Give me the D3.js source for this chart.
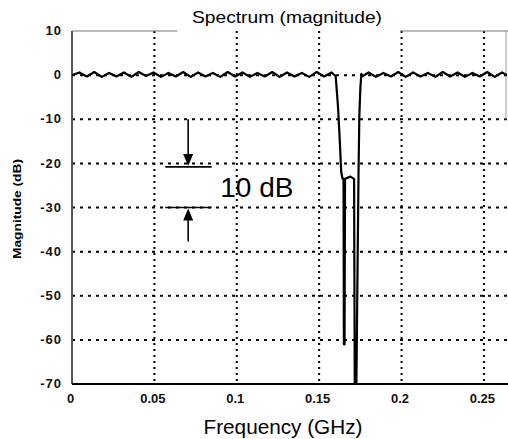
<!DOCTYPE html>
<html>
<head>
<meta charset="utf-8">
<script src="https://cdn.jsdelivr.net/npm/d3@7"></script>
<style>
  html, body { margin: 0; padding: 0; background: #fff; }
  svg { display: block; }
</style>
</head>
<body>
<svg id="chart" width="508" height="439"></svg>
<script>
// ---- data ----
const xTicks = [0, 0.05, 0.1, 0.15, 0.2, 0.25];
const xTickLabels = ["0", "0.05", "0.1", "0.15", "0.2", "0.25"];
const yTicks = [10, 0, -10, -20, -30, -40, -50, -60, -70];
const yTickLabels = ["10", "0", "-10", "-20", "-30", "-40", "-50", "-60", "-70"];

const freqLeft = [0, 0.0045, 0.009, 0.0135, 0.018, 0.0225, 0.027, 0.0315, 0.036, 0.0405, 0.045, 0.0495,
  0.054, 0.0585, 0.063, 0.0675, 0.072, 0.0765, 0.081, 0.0855, 0.09, 0.0945, 0.099, 0.1035, 0.108, 0.1125,
  0.117, 0.1215, 0.126, 0.1305, 0.135, 0.1395, 0.144, 0.1485, 0.153, 0.1575];
const magLeft = [0.0, 0.6, -0.3, 0.7, -0.4, 0.5, -0.3, 0.6, -0.4, 0.7, -0.2, 0.6, -0.4, 0.5, -0.3, 0.7,
  -0.4, 0.6, -0.3, 0.5, -0.4, 0.7, -0.3, 0.6, -0.4, 0.5, -0.3, 0.7, -0.4, 0.6, -0.3, 0.5, -0.4, 0.7, -0.3, 0.6];

const freqNotch = [0.1600, 0.1606, 0.1614, 0.1624, 0.1634, 0.1642, 0.1648, 0.1650, 0.1654, 0.1657, 0.1690,
  0.1712, 0.1716, 0.1726, 0.1734, 0.1739, 0.1744, 0.1750, 0.1756];
const magNotch = [-0.2, -3, -7, -14, -22, -23.5, -23.5, -61, -61, -23.5, -23, -23.5, -70, -70, -40, -22, -9, -3, 0.3];

const freqRight = [0.1760, 0.18, 0.1845, 0.189, 0.1935, 0.198, 0.2025, 0.207, 0.2115, 0.216, 0.2205, 0.225,
  0.2295, 0.234, 0.2385, 0.243, 0.2475, 0.252, 0.2565, 0.261, 0.2655];
const magRight = [-0.3, 0.6, -0.4, 0.5, -0.3, 0.7, -0.4, 0.6, -0.3, 0.5, -0.4, 0.7, -0.3, 0.6, -0.4, 0.5,
  -0.3, 0.7, -0.4, 0.6, -0.3];

// annotation (10 dB marker)
const annotFreq = [0.0705];
const annotSpan = [0.0566, 0.0848];
const annotLevels = [-20.8, -30];
const annotArrowFrom = [-10, -37.7];
const annotText = "10 dB";
const annotTextPos = [0.0900, -27.6];

const titleText = "Spectrum (magnitude)";
const xLabel = "Frequency (GHz)";
const yLabel = "Magnitude (dB)";

// ---- layout ----
const svg = d3.select("#chart");
const mLeft = 72, mRight = 507, mTop = 31, mBottom = 384;
const x = d3.scaleLinear().domain([0, 0.264]).range([mLeft, mRight]);
const y = d3.scaleLinear().domain([-70, 10]).range([mBottom, mTop]);
const FONT = "Liberation Sans, Arial, sans-serif";

const pts = [];
freqLeft.forEach((f, i) => pts.push([f, magLeft[i]]));
freqNotch.forEach((f, i) => pts.push([f, magNotch[i]]));
freqRight.forEach((f, i) => pts.push([f, magRight[i]]));

svg.append("defs").append("clipPath").attr("id", "clip")
  .append("rect").attr("x", mLeft).attr("y", mTop - 2).attr("width", mRight - mLeft).attr("height", mBottom - mTop + 2);

// grid lines
const grid = svg.append("g");
grid.selectAll("line.h").data(yTicks.filter(v => v < 10 && v > -70)).enter().append("line")
  .attr("x1", mLeft).attr("x2", mRight)
  .attr("y1", d => y(d)).attr("y2", d => y(d))
  .attr("stroke", "#000").attr("stroke-width", 2).attr("stroke-dasharray", "3,5");
grid.selectAll("line.v").data(xTicks.filter(v => v > 0)).enter().append("line")
  .attr("x1", d => x(d)).attr("x2", d => x(d))
  .attr("y1", mTop).attr("y2", mBottom)
  .attr("stroke", "#000").attr("stroke-width", 2).attr("stroke-dasharray", "2,4");

// frame
svg.append("line").attr("x1", mLeft).attr("x2", mLeft).attr("y1", mTop).attr("y2", mBottom)
  .attr("stroke", "#555").attr("stroke-width", 2);
svg.append("line").attr("x1", mLeft).attr("x2", mRight + 1).attr("y1", mBottom).attr("y2", mBottom)
  .attr("stroke", "#000").attr("stroke-width", 2);
svg.append("line").attr("x1", mLeft).attr("x2", x(0.064)).attr("y1", mTop).attr("y2", mTop)
  .attr("stroke", "#777").attr("stroke-width", 1.2);
svg.append("line").attr("x1", x(0.199)).attr("x2", mRight + 1).attr("y1", mTop).attr("y2", mTop)
  .attr("stroke", "#777").attr("stroke-width", 1.2);
svg.append("line").attr("x1", mRight - 1).attr("x2", mRight - 1).attr("y1", mTop).attr("y2", y(-10))
  .attr("stroke", "#999").attr("stroke-width", 1);

// axes labels via d3 axes
const yAxis = d3.axisLeft(y).tickValues(yTicks).tickSize(0).tickPadding(10)
  .tickFormat((d, i) => yTickLabels[i]);
const gy = svg.append("g").attr("transform", `translate(${mLeft},0)`).call(yAxis);
gy.select(".domain").remove();
gy.selectAll("text").attr("font-family", FONT).attr("font-size", 13).attr("font-weight", "bold")
  .attr("letter-spacing", 1).attr("fill", "#111").attr("dy", "0.28em");

const xAxis = d3.axisBottom(x).tickValues(xTicks).tickSize(0).tickPadding(10)
  .tickFormat((d, i) => xTickLabels[i]);
const gx = svg.append("g").attr("transform", `translate(-2,${mBottom})`).call(xAxis);
gx.select(".domain").remove();
gx.selectAll("text").attr("font-family", FONT).attr("font-size", 13).attr("font-weight", "bold")
  .attr("fill", "#111");

// spectrum line
svg.append("path").datum(pts)
  .attr("clip-path", "url(#clip)")
  .attr("fill", "none").attr("stroke", "#000").attr("stroke-width", 2.2)
  .attr("stroke-linejoin", "round")
  .attr("d", d3.line().x(d => x(d[0])).y(d => y(d[1])));

// annotation
const ann = svg.append("g");
annotLevels.forEach(lv => {
  ann.append("line").attr("x1", x(annotSpan[0])).attr("x2", x(annotSpan[1]))
    .attr("y1", y(lv)).attr("y2", y(lv)).attr("stroke", "#000").attr("stroke-width", 1.6);
});
const ax = x(annotFreq[0]);
ann.append("line").attr("x1", ax).attr("x2", ax).attr("y1", y(annotArrowFrom[0])).attr("y2", y(annotLevels[0]) - 8)
  .attr("stroke", "#000").attr("stroke-width", 1.6);
ann.append("path").attr("d", `M${ax - 5},${y(annotLevels[0]) - 13} L${ax + 5},${y(annotLevels[0]) - 13} L${ax},${y(annotLevels[0]) - 1} Z`)
  .attr("fill", "#000");
ann.append("line").attr("x1", ax).attr("x2", ax).attr("y1", y(annotArrowFrom[1])).attr("y2", y(annotLevels[1]) + 8)
  .attr("stroke", "#000").attr("stroke-width", 1.6);
ann.append("path").attr("d", `M${ax - 5},${y(annotLevels[1]) + 13} L${ax + 5},${y(annotLevels[1]) + 13} L${ax},${y(annotLevels[1]) + 1} Z`)
  .attr("fill", "#000");
ann.append("text").attr("x", x(annotTextPos[0])).attr("y", y(annotTextPos[1]))
  .attr("font-family", FONT).attr("font-size", 28)
  .attr("fill", "#000").text(annotText);

// titles
svg.append("text").attr("x", 287).attr("y", 22.5).attr("text-anchor", "middle")
  .attr("font-family", FONT).attr("font-size", 17)
  .attr("textLength", 190).attr("lengthAdjust", "spacingAndGlyphs").text(titleText);
svg.append("text").attr("x", 283).attr("y", 434).attr("text-anchor", "middle")
  .attr("font-family", FONT).attr("font-size", 19.5)
  .attr("textLength", 159).attr("lengthAdjust", "spacingAndGlyphs").text(xLabel);
svg.append("text").attr("transform", "translate(21,209) rotate(-90)").attr("text-anchor", "middle")
  .attr("font-family", FONT).attr("font-size", 11).attr("font-weight", "bold")
  .attr("textLength", 100).attr("lengthAdjust", "spacingAndGlyphs")
  .text(yLabel);
</script>
</body>
</html>
